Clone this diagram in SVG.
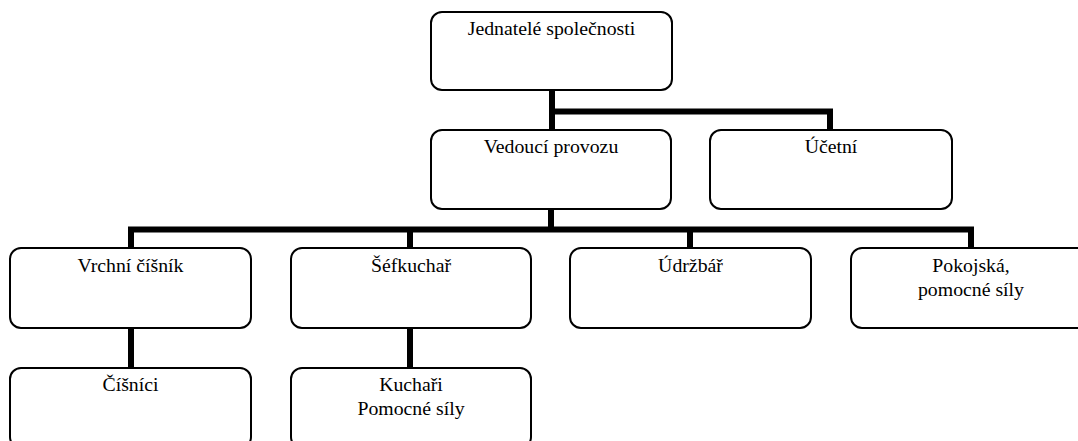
<svg xmlns="http://www.w3.org/2000/svg" width="1078" height="441" viewBox="0 0 1078 441" font-family="'Liberation Serif', 'Times New Roman', Tinos, 'DejaVu Serif', serif">
<style>
.box{fill:#fff;stroke:#000;stroke-width:2}
.conn{fill:none;stroke:#000;stroke-width:6;stroke-linejoin:miter;stroke-linecap:butt}
text{font-family:'Liberation Serif','Times New Roman',Tinos,'DejaVu Serif',serif;font-size:19.8px;fill:#000;text-anchor:middle}
</style>
<rect width="1078" height="441" fill="#fff"/>
<g id="connectors">
<polyline class="conn" points="552,90 552,130"/>
<polyline class="conn" points="552,111.5 830,111.5 830,130"/>
<polyline class="conn" points="551,209 551,229.5"/>
<polyline class="conn" points="131,248 131,229.5 971,229.5 971,248"/>
<polyline class="conn" points="410,229.5 410,248"/>
<polyline class="conn" points="690,229.5 690,248"/>
<polyline class="conn" points="131,328 131,368"/>
<polyline class="conn" points="410,328 410,368"/>
</g>
<g id="n-jednatele">
<rect class="box" x="431" y="12" width="241" height="78" rx="11"/>
<text x="551.5" y="35">Jednatelé společnosti</text>
</g>
<g id="n-vedouci">
<rect class="box" x="431" y="130" width="240" height="79" rx="11"/>
<text x="551" y="153">Vedoucí provozu</text>
</g>
<g id="n-ucetni">
<rect class="box" x="710" y="130" width="242" height="79" rx="11"/>
<text x="831" y="153">Účetní</text>
</g>
<g id="n-vrchni">
<rect class="box" x="10" y="248" width="241" height="80" rx="11"/>
<text x="130.5" y="272">Vrchní číšník</text>
</g>
<g id="n-sefkuchar">
<rect class="box" x="291" y="248" width="240" height="80" rx="11"/>
<text x="411" y="272">Šéfkuchař</text>
</g>
<g id="n-udrzbar">
<rect class="box" x="570" y="248" width="241" height="80" rx="11"/>
<text x="690.5" y="272">Údržbář</text>
</g>
<g id="n-pokojska">
<rect class="box" x="851" y="248" width="240" height="80" rx="11"/>
<text x="971" y="272">Pokojská,</text>
<text x="971" y="296">pomocné síly</text>
</g>
<g id="n-cisnici">
<rect class="box" x="10" y="368" width="241" height="80" rx="11"/>
<text x="130.5" y="391">Číšníci</text>
</g>
<g id="n-kuchari">
<rect class="box" x="291" y="368" width="240" height="80" rx="11"/>
<text x="411" y="391">Kuchaři</text>
<text x="411" y="415">Pomocné síly</text>
</g>
</svg>
